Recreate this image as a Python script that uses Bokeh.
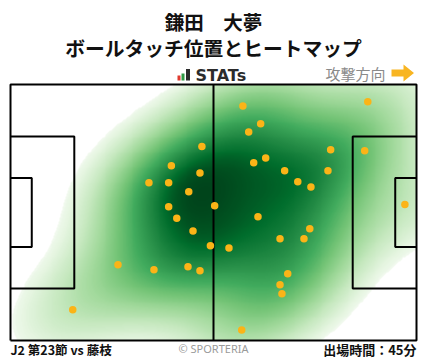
import numpy as np
from bokeh.plotting import figure
from bokeh.models import Range1d, LinearColorMapper
from bokeh.palettes import Greens256
from bokeh.core.properties import value
from bokeh.embed import file_html
from bokeh.resources import INLINE

# ---- data: ball touch positions (pitch metres, attacking to the right) ----
touch_x = [49.5, 41.6, 49.0, 35.8, 40.9, 46.1, 40.9, 52.8, 43.0, 60.1,
           92.4, 64.7, 61.6, 82.8, 91.6, 66.0, 62.9, 70.9, 82.1, 74.3,
           77.7, 102.0, 64.0, 47.2, 51.7, 56.5, 27.8, 37.1, 45.9, 49.0,
           16.1, 77.4, 69.7, 75.9, 71.7, 69.7, 70.2, 59.8]
touch_y = [51.5, 46.4, 44.5, 41.9, 41.9, 39.5, 35.5, 35.8, 32.5, 62.3,
           63.4, 57.6, 55.4, 50.7, 50.4, 48.5, 47.2, 45.1, 45.1, 42.2,
           40.8, 36.1, 32.9, 29.1, 25.2, 24.6, 20.1, 18.8, 19.6, 18.5,
           8.2, 29.7, 27.0, 27.0, 17.7, 14.8, 12.4, 2.8]

title_text = "鎌田　大夢"
subtitle_text = "ボールタッチ位置とヒートマップ"
match_text = "J2 第23節 vs 藤枝"
credit_text = "© SPORTERIA"
minutes_text = "出場時間：45分"
direction_text = "攻撃方向"
brand_text = "STATs"

PITCH_L, PITCH_W = 105.0, 68.0
BOX_D, BOX_W = 16.5, 40.32
GA_D, GA_W = 5.5, 18.32

# page-pixel -> data helpers (pitch spans page x 10..416, y 84..340)
def X(px):
    return (px - 10) * PITCH_L / 406.0

def Y(py):
    return (340 - py) * PITCH_W / 256.0

W, H = 428, 359
p = figure(width=W, height=H, output_backend="svg", toolbar_location=None,
           x_range=Range1d(X(0), X(W)), y_range=Range1d(Y(H), Y(0)),
           min_border=0, x_axis_location=None, y_axis_location=None,
           outline_line_color=None, background_fill_color="white",
           border_fill_color="white")
p.xgrid.grid_line_color = None
p.ygrid.grid_line_color = None

# ---- kernel density (Scott bandwidth, full covariance), iso-proportion shading ----
BW_ADJUST = 1.15
pts = np.vstack([touch_x, touch_y])
n = pts.shape[1]
cov = np.cov(pts) * (BW_ADJUST * n ** (-1.0 / 6.0)) ** 2
inv = np.linalg.inv(cov)
norm = 1.0 / (2 * np.pi * np.sqrt(np.linalg.det(cov)) * n)

def kde(gx, gy):
    dx = gx[..., None] - pts[0]
    dy = gy[..., None] - pts[1]
    q = inv[0, 0] * dx * dx + 2 * inv[0, 1] * dx * dy + inv[1, 1] * dy * dy
    return np.exp(-0.5 * q).sum(-1) * norm

bx, by = np.meshgrid(np.arange(-60, 165, 0.5), np.arange(-60, 128, 0.5))
big = np.sort(kde(bx, by).ravel())
cm = np.cumsum(big)
cm /= cm[-1]

gx, gy = np.meshgrid(np.linspace(0, PITCH_L, 421), np.linspace(0, PITCH_W, 273))
prop = np.interp(kde(gx, gy), big, cm)
THRESH = 0.03
prop = np.where(prop >= THRESH, prop, np.nan)

greens = list(reversed(Greens256))
palette = [greens[int(round(12 + 243 * (i / 255) ** 0.6))] for i in range(256)]
mapper = LinearColorMapper(palette=palette, low=THRESH, high=1.0, nan_color=(0, 0, 0, 0))
p.image(image=[prop], x=0, y=0, dw=PITCH_L, dh=PITCH_W, color_mapper=mapper)

# ---- pitch lines ----
lc, lw = "black", 2
p.line([0, PITCH_L, PITCH_L, 0, 0], [0, 0, PITCH_W, PITCH_W, 0], line_color=lc, line_width=lw)
p.line([PITCH_L / 2, PITCH_L / 2], [0, PITCH_W], line_color=lc, line_width=lw)
for x0, sgn in ((0, 1), (PITCH_L, -1)):
    for d, w in ((BOX_D, BOX_W), (GA_D, GA_W)):
        y0, y1 = (PITCH_W - w) / 2, (PITCH_W + w) / 2
        p.line([x0, x0 + sgn * d, x0 + sgn * d, x0], [y0, y0, y1, y1],
               line_color=lc, line_width=lw)

# ---- touches ----
p.scatter(touch_x, touch_y, size=7.5, fill_color="#fbb417", line_color=None)

# ---- header ----
jp = value("Noto Sans CJK JP")
p.text(x=[X(213)], y=[Y(21)], text=[title_text], text_font=jp, text_font_size="19.5px",
       text_font_style="bold", text_align="center", text_baseline="middle", text_color="#111111")
p.text(x=[X(213)], y=[Y(46.5)], text=[subtitle_text], text_font=jp, text_font_size="19.8px",
       text_font_style="bold", text_align="center", text_baseline="middle", text_color="#111111")

# brand logo bars
p.quad(left=[X(177), X(181), X(185.5)], right=[X(180), X(184), X(189.5)],
       bottom=[Y(80)] * 3, top=[Y(75), Y(73), Y(68.5)],
       fill_color=["#e03a2f", "#2f9a44", "#2b2b2b"], line_color=None)
p.text(x=[X(195)], y=[Y(74.5)], text=[brand_text], text_font=value("DejaVu Sans"),
       text_font_size="16px", text_font_style="bold", text_align="left",
       text_baseline="middle", text_color="#2b2b2b")

p.text(x=[X(385)], y=[Y(72.5)], text=[direction_text], text_font=jp, text_font_size="15px",
       text_align="right", text_baseline="middle", text_color="#8a8a8a")
ax = [391, 403, 403, 413.5, 403, 403, 391]
ay = [69, 69, 64, 72.5, 81, 76, 76]
p.patch([X(v) for v in ax], [Y(v) for v in ay], fill_color="#f8b522", line_color=None)

# ---- footer ----
p.text(x=[X(10)], y=[Y(348.5)], text=[match_text], text_font=jp, text_font_size="12.5px",
       text_font_style="bold", text_align="left", text_baseline="middle", text_color="#111111")
p.text(x=[X(213)], y=[Y(348)], text=[credit_text], text_font=value("Noto Sans"),
       text_font_size="11px", text_align="center", text_baseline="middle", text_color="#9a9a9a")
p.text(x=[X(416)], y=[Y(348.5)], text=[minutes_text], text_font=jp, text_font_size="13px",
       text_font_style="bold", text_align="right", text_baseline="middle", text_color="#111111")

open("out.html", "w").write(file_html(p, INLINE))
